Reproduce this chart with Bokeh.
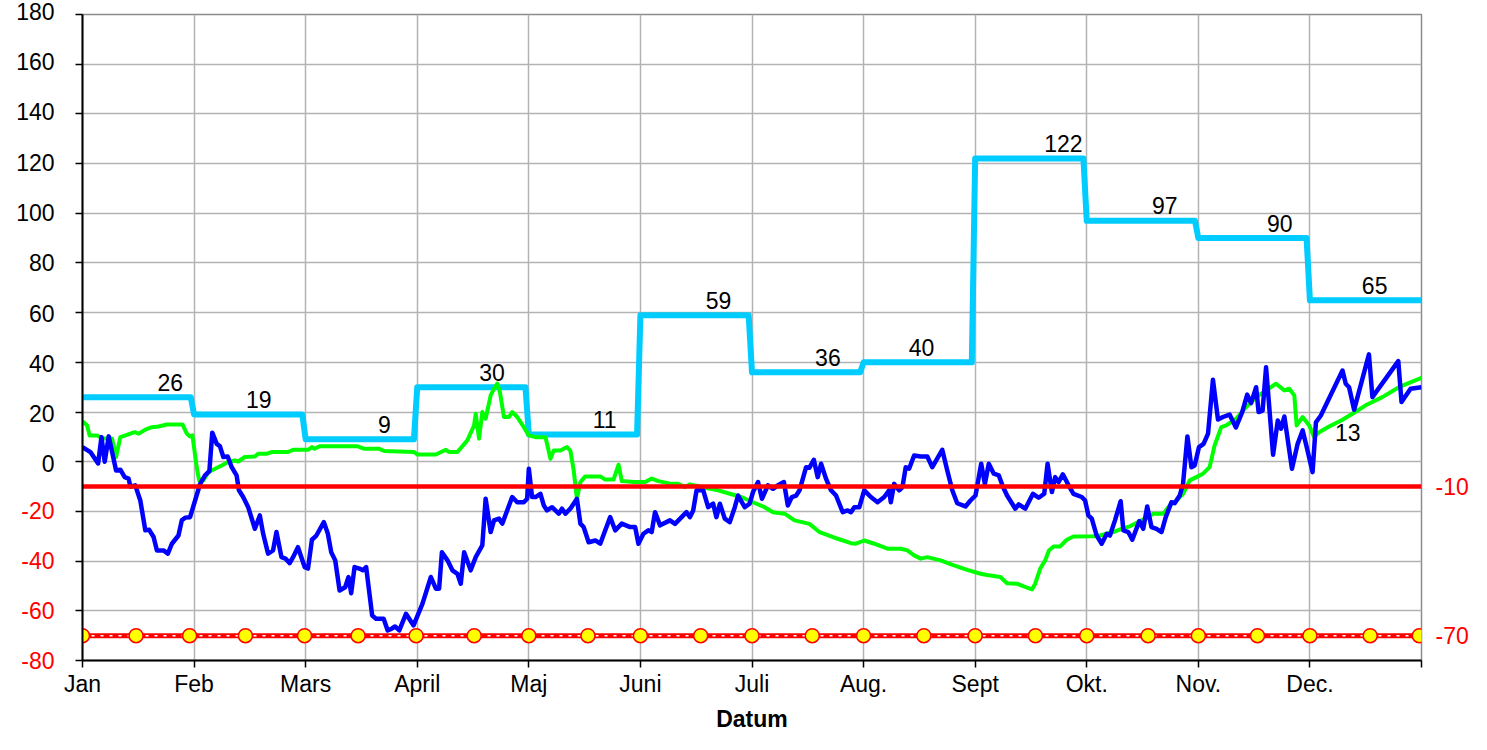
from bokeh.plotting import figure
from bokeh.models import Range1d, LinearAxis, FixedTicker, Label
from bokeh.embed import file_html
from bokeh.resources import INLINE
from bokeh.core.properties import value

# ---------------- data ----------------
months = ["Jan", "Feb", "Mars", "April", "Maj", "Juni", "Juli", "Aug.",
          "Sept", "Okt.", "Nov.", "Dec."]
monthly_values = [26, 19, 9, 30, 11, 59, 36, 40, 122, 97, 90, 65]
monthly_label_x = [0.786, 1.58, 2.705, 3.67, 4.68, 5.70, 6.68, 7.52,
                   8.79, 9.70, 10.73, 11.58]
extra_label_text = "13"
extra_label_x = 11.34
extra_label_y = 11.8

blue_x = [0.0, 0.071, 0.140, 0.170, 0.199, 0.235, 0.301, 0.339, 0.378, 0.413,
          0.429, 0.473, 0.518, 0.563, 0.598, 0.637, 0.667, 0.726, 0.765, 0.801,
          0.860, 0.890, 0.920, 0.964, 1.009, 1.054, 1.098, 1.137, 1.163, 1.203,
          1.232, 1.262, 1.301, 1.337, 1.381, 1.402, 1.440, 1.485, 1.545, 1.589,
          1.619, 1.663, 1.708, 1.738, 1.783, 1.819, 1.857, 1.887, 1.931, 1.991,
          2.021, 2.056, 2.096, 2.163, 2.199, 2.229, 2.265, 2.304, 2.354, 2.384,
          2.408, 2.438, 2.482, 2.512, 2.542, 2.596, 2.631, 2.699, 2.735, 2.771,
          2.801, 2.839, 2.899, 2.967, 3.047, 3.122, 3.167, 3.196, 3.221, 3.271,
          3.315, 3.360, 3.390, 3.420, 3.479, 3.524, 3.583, 3.613, 3.658, 3.688,
          3.732, 3.762, 3.806, 3.851, 3.896, 3.955, 3.985, 4.000, 4.029, 4.060,
          4.104, 4.134, 4.163, 4.208, 4.268, 4.297, 4.328, 4.372, 4.431, 4.462,
          4.491, 4.536, 4.596, 4.640, 4.685, 4.729, 4.774, 4.833, 4.908, 4.953,
          4.982, 5.027, 5.071, 5.101, 5.131, 5.176, 5.265, 5.310, 5.369, 5.413,
          5.444, 5.473, 5.503, 5.563, 5.607, 5.652, 5.681, 5.712, 5.756, 5.801,
          5.846, 5.875, 5.935, 5.979, 6.009, 6.054, 6.089, 6.143, 6.188, 6.232,
          6.286, 6.321, 6.357, 6.396, 6.426, 6.485, 6.515, 6.554, 6.589, 6.619,
          6.663, 6.708, 6.753, 6.813, 6.857, 6.887, 6.917, 6.962, 7.006, 7.065,
          7.125, 7.185, 7.229, 7.244, 7.274, 7.319, 7.348, 7.378, 7.408, 7.453,
          7.512, 7.571, 7.616, 7.705, 7.750, 7.795, 7.839, 7.913, 7.958, 8.003,
          8.054, 8.087, 8.122, 8.167, 8.212, 8.250, 8.286, 8.360, 8.390, 8.449,
          8.518, 8.569, 8.619, 8.649, 8.688, 8.717, 8.747, 8.786, 8.837, 8.881,
          8.955, 8.985, 9.015, 9.045, 9.089, 9.134, 9.179, 9.208, 9.253, 9.304,
          9.328, 9.372, 9.408, 9.471, 9.506, 9.542, 9.580, 9.625, 9.670, 9.708,
          9.759, 9.788, 9.833, 9.863, 9.902, 9.938, 9.967, 10.006, 10.047, 10.087,
          10.131, 10.176, 10.221, 10.280, 10.337, 10.393, 10.438, 10.473, 10.518, 10.540,
          10.576, 10.607, 10.670, 10.712, 10.741, 10.771, 10.839, 10.890, 10.935, 10.971,
          11.024, 11.054, 11.098, 11.292, 11.321, 11.351, 11.396, 11.529, 11.560, 11.792,
          11.821, 11.902, 12.0]
blue_y = [5.9, 3.9, -0.7, 9.9, 0.0, 10.2, -3.5, -3.2, -6.2, -6.8,
          -10.0, -9.5, -15.6, -27.6, -27.4, -30.3, -35.7, -35.7, -37.0, -33.0,
          -29.7, -23.6, -22.5, -22.3, -15.6, -8.9, -5.5, -3.8, 11.7, 7.2,
          6.2, 1.9, 2.1, -2.2, -5.5, -11.5, -14.2, -18.3, -27.0, -21.6,
          -29.0, -37.0, -35.7, -28.3, -38.4, -39.0, -40.8, -38.4, -34.4, -42.4,
          -43.0, -31.4, -29.7, -24.3, -29.0, -36.4, -39.7, -51.8, -50.5, -46.4,
          -52.9, -42.4, -43.0, -43.7, -42.4, -61.9, -63.2, -63.2, -67.9, -67.2,
          -66.3, -67.9, -61.2, -65.9, -57.1, -46.4, -51.1, -51.1, -36.4, -39.7,
          -43.7, -45.1, -49.1, -36.4, -43.7, -38.4, -33.7, -14.9, -28.3, -23.6,
          -22.9, -24.9, -19.6, -14.2, -16.3, -16.3, -14.9, -2.8, -14.2, -14.2,
          -12.9, -17.6, -19.6, -18.3, -20.9, -18.9, -20.9, -18.9, -14.9, -24.9,
          -26.3, -32.4, -31.7, -33.0, -27.6, -22.3, -27.6, -24.9, -26.3, -26.3,
          -33.0, -29.0, -27.6, -28.3, -20.3, -25.6, -23.6, -25.0, -22.3, -20.3,
          -22.3, -19.6, -11.5, -11.5, -18.3, -16.9, -22.3, -16.9, -22.9, -24.3,
          -18.3, -13.6, -18.3, -16.9, -12.2, -8.2, -14.9, -9.5, -10.9, -9.5,
          -8.2, -17.6, -14.2, -13.6, -11.5, -2.2, -2.4, 0.8, -6.2, -0.8,
          -6.8, -11.5, -13.6, -20.3, -19.6, -20.3, -18.3, -18.3, -11.5, -14.2,
          -16.3, -14.2, -11.5, -16.3, -8.9, -11.5, -10.2, -2.2, -2.8, 2.5,
          2.1, 2.1, -2.2, 4.8, -3.5, -11.5, -16.7, -18.0, -15.6, -13.6,
          -0.8, -8.9, -0.8, -4.8, -5.5, -10.2, -13.6, -18.9, -17.2, -18.9,
          -12.9, -14.5, -12.9, -0.8, -12.2, -6.2, -8.2, -5.1, -9.5, -12.9,
          -14.2, -15.6, -21.6, -22.9, -29.7, -33.0, -29.0, -29.7, -23.6, -15.9,
          -27.6, -28.3, -31.4, -23.9, -27.0, -18.0, -26.3, -27.0, -28.3, -22.3,
          -16.3, -16.7, -13.6, -8.9, 10.2, -2.2, -1.5, 5.9, 7.2, 11.3,
          33.0, 17.0, 18.0, 19.0, 13.8, 20.0, 27.0, 23.6, 30.0, 20.0,
          20.6, 38.0, 2.8, 16.6, 13.3, 18.2, -2.8, 7.2, 12.6, 5.9,
          -4.2, 15.9, 18.6, 36.7, 31.4, 30.0, 20.9, 43.2, 26.0, 40.5,
          24.0, 29.4, 30.0]

green_x = [0.0, 0.042, 0.063, 0.131, 0.176, 0.265, 0.301, 0.339, 0.384, 0.467,
           0.503, 0.563, 0.622, 0.681, 0.756, 0.896, 0.935, 0.964, 0.985, 1.024,
           1.045, 1.083, 1.128, 1.188, 1.247, 1.306, 1.366, 1.396, 1.455, 1.545,
           1.574, 1.649, 1.694, 1.842, 1.887, 2.021, 2.056, 2.080, 2.125, 2.467,
           2.527, 2.661, 2.705, 2.973, 3.003, 3.167, 3.256, 3.286, 3.360, 3.449,
           3.509, 3.524, 3.554, 3.583, 3.613, 3.658, 3.688, 3.717, 3.741, 3.777,
           3.821, 3.851, 3.896, 3.955, 4.000, 4.060, 4.149, 4.194, 4.223, 4.283,
           4.342, 4.372, 4.402, 4.431, 4.462, 4.506, 4.640, 4.685, 4.759, 4.804,
           4.833, 4.938, 5.042, 5.101, 5.161, 5.279, 5.339, 5.399, 5.444, 5.578,
           5.696, 5.801, 5.904, 6.009, 6.113, 6.188, 6.292, 6.381, 6.515, 6.604,
           6.649, 6.768, 6.887, 6.931, 7.006, 7.096, 7.214, 7.333, 7.393, 7.453,
           7.512, 7.571, 7.690, 7.810, 7.929, 8.048, 8.107, 8.226, 8.286, 8.375,
           8.435, 8.509, 8.538, 8.583, 8.628, 8.661, 8.703, 8.762, 8.821, 8.881,
           9.060, 9.119, 9.238, 9.328, 9.387, 9.462, 9.551, 9.596, 9.685, 9.744,
           9.804, 9.863, 9.923, 9.982, 10.042, 10.101, 10.146, 10.205, 10.250, 10.339,
           10.429, 10.518, 10.696, 10.771, 10.815, 10.860, 10.881, 10.935, 10.994, 11.038,
           11.083, 11.172, 11.292, 11.381, 11.500, 11.649, 11.797, 12.0]
green_y = [16.3, 14.6, 10.6, 10.6, 9.3, 9.3, 1.9, 9.9, 10.6, 11.9,
           11.3, 12.9, 13.9, 14.2, 15.0, 15.0, 11.3, 10.2, 10.6, -2.2,
           -7.5, -7.5, -4.2, -2.8, -1.5, -0.1, 0.5, 0.1, 1.9, 2.1,
           3.2, 3.2, 3.9, 3.9, 4.8, 4.8, 5.9, 5.2, 6.2, 6.2,
           5.2, 5.2, 4.3, 3.9, 2.9, 2.9, 4.8, 3.9, 3.9, 8.6,
           14.6, 19.3, 9.3, 20.0, 17.3, 26.7, 29.4, 31.4, 28.0, 18.0,
           18.0, 20.0, 18.0, 13.9, 10.6, 9.9, 9.9, 1.2, 4.5, 4.5,
           5.9, 4.5, -3.5, -14.9, -8.2, -5.9, -5.9, -7.2, -7.2, -1.2,
           -7.8, -8.2, -8.2, -6.8, -7.8, -8.9, -8.9, -10.2, -9.1, -10.5,
           -11.5, -12.9, -14.2, -16.3, -18.3, -20.3, -20.9, -23.6, -25.0, -28.3,
           -29.0, -31.0, -32.8, -33.0, -31.7, -33.0, -35.0, -35.0, -35.7, -37.7,
           -39.0, -38.4, -39.7, -41.7, -43.5, -45.1, -45.6, -46.4, -48.9, -49.1,
           -50.2, -51.4, -49.1, -43.0, -39.7, -35.7, -34.1, -34.1, -31.4, -30.1,
           -30.0, -29.7, -28.3, -26.7, -26.0, -24.3, -22.3, -20.9, -20.9, -17.6,
           -15.6, -12.9, -7.5, -6.2, -4.8, -2.2, 6.6, 13.9, 14.6, 17.3,
           22.0, 26.0, 31.4, 28.7, 29.4, 26.7, 14.6, 18.0, 14.6, 9.9,
           11.9, 14.2, 16.9, 19.3, 22.7, 26.0, 30.0, 33.8]

limit_upper = -10
limit_lower = -70
limit_marker_x = [0.0, 0.48, 0.96, 1.46, 1.99, 2.47, 2.99, 3.51, 4.0, 4.53,
                  5.0, 5.54, 6.0, 6.54, 7.0, 7.54, 8.0, 8.54, 9.0, 9.55,
                  10.0, 10.53, 11.0, 11.54, 11.98]

y_tick_values = list(range(-80, 181, 20))

# ---------------- styles ----------------
FONT = "Liberation Sans"
FS_PX = 23
FS = "%dpx" % FS_PX
FONT_EM_HEIGHT = 1.117  # ascent + descent of Liberation Sans, in em
Y_MIN, Y_MAX = -80, 180
FRAME_TOP, FRAME_BOTTOM = 14, 660

p = figure(width=1471, height=734, x_range=Range1d(0, 12), y_range=Range1d(Y_MIN, Y_MAX),
           output_backend="svg", toolbar_location=None,
           min_border_left=82, min_border_right=47, min_border_top=FRAME_TOP,
           min_border_bottom=70)
p.background_fill_color = "white"
p.border_fill_color = "white"
p.outline_line_color = "#8c8c8c"
p.outline_line_width = 1.5

# x axis
p.xaxis.ticker = FixedTicker(ticks=list(range(13)))
overrides = {i: m for i, m in enumerate(months)}
overrides[12] = ""
p.xaxis.major_label_overrides = overrides
p.xaxis.axis_line_color = "black"
p.xaxis.axis_line_width = 2
p.xaxis.major_tick_line_color = "black"
p.xaxis.major_tick_line_width = 1.5
p.xaxis.major_tick_in = 0
p.xaxis.major_tick_out = 7
p.xaxis.minor_tick_line_color = None
p.xaxis.major_label_text_font = FONT
p.xaxis.major_label_text_font_size = FS
p.xaxis.major_label_text_color = "black"
p.xaxis.major_label_standoff = 3
p.xaxis.axis_label = "Datum"
p.xaxis.axis_label_text_font = FONT
p.xaxis.axis_label_text_font_size = FS
p.xaxis.axis_label_text_font_style = "bold"
p.xaxis.axis_label_text_color = "black"
p.xaxis.axis_label_standoff = 6

# y axis: line and ticks from the axis; tick labels as two multi-line labels
p.yaxis.ticker = FixedTicker(ticks=y_tick_values)
p.yaxis.major_label_overrides = {t: "" for t in y_tick_values}
p.yaxis.axis_line_color = "black"
p.yaxis.axis_line_width = 2
p.yaxis.major_tick_line_color = "black"
p.yaxis.major_tick_line_width = 1.5
p.yaxis.major_tick_in = 0
p.yaxis.major_tick_out = 7
p.yaxis.minor_tick_line_color = None
p.yaxis.major_label_standoff = 0

tick_step = y_tick_values[1] - y_tick_values[0]
px_per_step = (FRAME_BOTTOM - FRAME_TOP) * tick_step / (Y_MAX - Y_MIN)
line_h = px_per_step / (FS_PX * FONT_EM_HEIGHT)
pos_ticks = [t for t in y_tick_values if t >= 0][::-1]
neg_ticks = [t for t in y_tick_values if t < 0][::-1]
for group, color in ((pos_ticks, "black"), (neg_ticks, "#FF0000")):
    p.add_layout(Label(x=0, y=sum(group) / len(group),
                       text="\n".join(str(t) for t in group),
                       x_offset=-28, text_align="right", text_baseline="middle",
                       text_line_height=line_h, text_color=color,
                       text_font=FONT, text_font_size=FS), "left")

# right axis with the limit values
raxis = LinearAxis(ticker=FixedTicker(ticks=[limit_upper, limit_lower]))
raxis.major_label_overrides = {limit_upper: str(limit_upper), limit_lower: str(limit_lower)}
raxis.axis_line_color = None
raxis.major_tick_line_color = None
raxis.minor_tick_line_color = None
raxis.major_label_text_color = "#FF0000"
raxis.major_label_text_font = FONT
raxis.major_label_text_font_size = FS
raxis.major_label_standoff = 8
p.add_layout(raxis, "right")

# grids
p.xgrid.ticker = FixedTicker(ticks=list(range(1, 12)))
p.ygrid.ticker = FixedTicker(ticks=list(range(-60, 181, 20)))
for g in (p.xgrid, p.ygrid):
    g.grid_line_color = "#b3b3b3"
    g.grid_line_width = 1.5

# monthly step line
step_x, step_y = [], []
for i, v in enumerate(monthly_values):
    step_x += [i, i + 0.97]
    step_y += [v, v]
step_x[-1] = 12
p.line(step_x, step_y, line_color="#00CCFF", line_width=6, line_join="round")

# daily series
p.line(green_x, green_y, line_color="#00FF00", line_width=4, line_join="round")
p.line(blue_x, blue_y, line_color="#0000FF", line_width=4.5, line_join="round")

# limit lines
p.line([0, 12], [limit_upper, limit_upper], line_color="#FF0000", line_width=4.5)
p.line([0, 12], [limit_lower, limit_lower], line_color="#FF0000", line_width=5)
p.line([0, 12], [limit_lower, limit_lower], line_color="white", line_width=1.5,
       line_dash="3 6")
p.scatter(limit_marker_x, [limit_lower] * len(limit_marker_x), size=14,
          fill_color="#FFFF00", line_color="#FF0000", line_width=1.5)

# value labels
p.text(monthly_label_x, monthly_values, text=[str(v) for v in monthly_values],
       text_align="center", text_baseline="middle", y_offset=-15,
       text_font=value(FONT), text_font_size=value(FS), text_color="black")
p.text([extra_label_x], [extra_label_y], text=[extra_label_text],
       text_align="center", text_baseline="middle",
       text_font=value(FONT), text_font_size=value(FS), text_color="black")

open("out.html", "w").write(file_html(p, INLINE))
